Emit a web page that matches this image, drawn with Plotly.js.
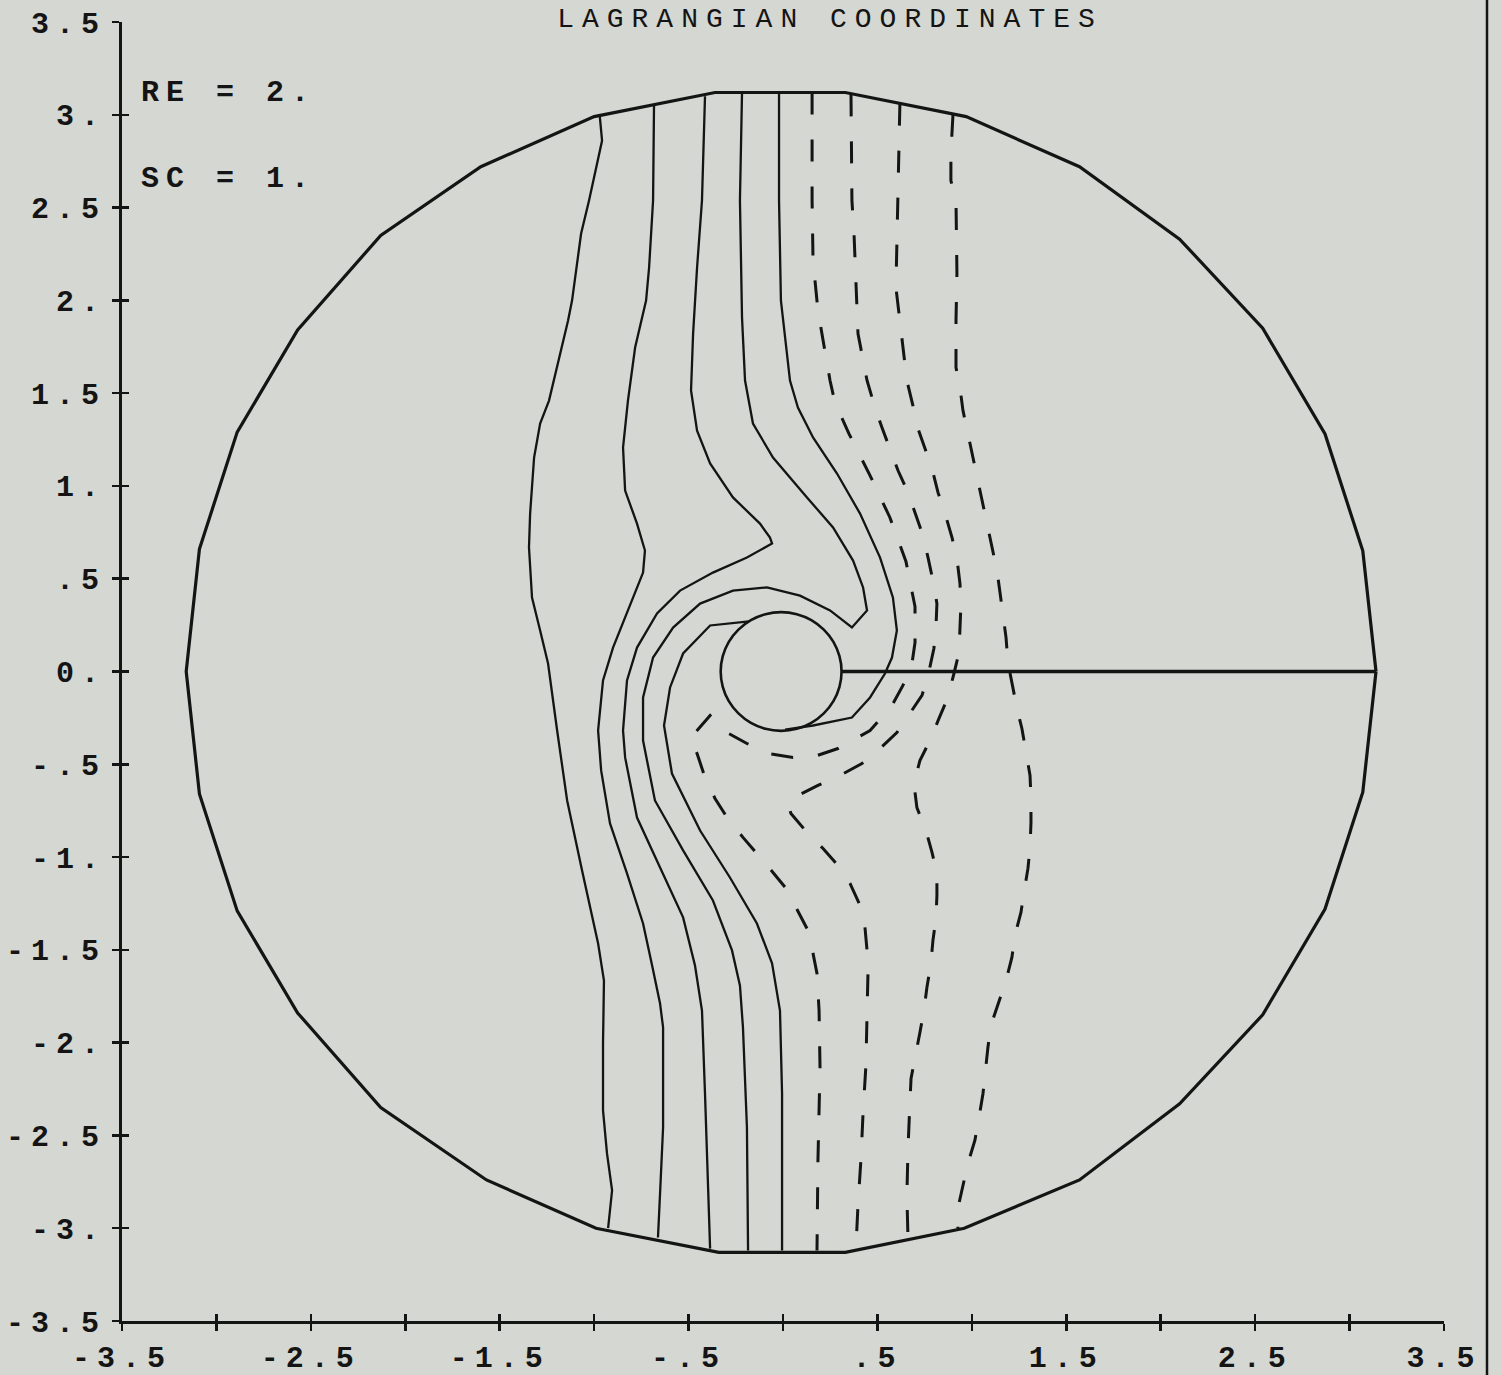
<!DOCTYPE html>
<html>
<head>
<meta charset="utf-8">
<script src="https://cdn.plot.ly/plotly-3.0.1.min.js"></script>
<style>
  html, body { margin: 0; padding: 0; background: #d5d7d2; }
  .xtick text, .ytick text, .annotation-text { letter-spacing: 7px; }
  .gtitle { letter-spacing: 8px; }
</style>
</head>
<body>
<div id="chart" style="width:1502px;height:1375px;"></div>
<script>
// ---- tick values / labels ----
const tickVals = [-3.5, -3, -2.5, -2, -1.5, -1, -0.5, 0, 0.5, 1, 1.5, 2, 2.5, 3, 3.5];
const xTickText = ["-3.5", "", "-2.5", "", "-1.5", "", "-.5", "", ".5", "", "1.5", "", "2.5", "", "3.5"];
const yTickText = ["-3.5", "-3.", "-2.5", "-2.", "-1.5", "-1.", "-.5", "0.", ".5", "1.", "1.5", "2.", "2.5", "3.", "3.5"];

// ---- outer boundary (polygon) ----
const outerX = [3.14, 3.07, 2.87, 2.54, 2.10, 1.57, 0.97, 0.33, -0.36, -1.00, -1.60, -2.13, -2.57, -2.89, -3.09, -3.16,
                -3.09, -2.89, -2.57, -2.13, -1.57, -0.99, -0.34, 0.33, 0.96, 1.57, 2.10, 2.54, 2.87, 3.07, 3.14];
const outerY = [0, 0.65, 1.28, 1.85, 2.33, 2.72, 2.99, 3.12, 3.12, 2.99, 2.72, 2.35, 1.84, 1.29, 0.66, 0,
                -0.66, -1.29, -1.84, -2.35, -2.74, -3.00, -3.13, -3.13, -3.00, -2.74, -2.33, -1.85, -1.28, -0.65, 0];

// ---- inner cylinder ----
const innerX = [0.31, 0.299, 0.267, 0.216, 0.15, 0.073, -0.01, -0.093, -0.17, -0.236, -0.287, -0.319, -0.33,
                -0.319, -0.287, -0.236, -0.17, -0.093, -0.01, 0.073, 0.15, 0.216, 0.267, 0.299, 0.31];
const innerY = [0, 0.083, 0.16, 0.226, 0.277, 0.309, 0.32, 0.309, 0.277, 0.226, 0.16, 0.083, 0,
                -0.083, -0.16, -0.226, -0.277, -0.309, -0.32, -0.309, -0.277, -0.226, -0.16, -0.083, 0];

// ---- cut line ----
const cutX = [0.31, 3.14];
const cutY = [0, 0];

// ---- solid contours ----
const c1X = [-0.97, -0.958, -1.027, -1.069, -1.117, -1.138, -1.239, -1.286, -1.318, -1.339, -1.345, -1.329, -1.286, -1.244, -1.196, -1.143, -1.064, -0.979, -0.948, -0.953, -0.953, -0.932, -0.905, -0.926];
const c1Y = [2.99, 2.861, 2.538, 2.36, 1.999, 1.891, 1.46, 1.336, 1.153, 0.851, 0.668, 0.399, 0.221, 0.043, -0.318, -0.695, -1.072, -1.466, -1.665, -2.004, -2.365, -2.597, -2.796, -3.0];

const c2X = [-0.683, -0.688, -0.709, -0.725, -0.783, -0.821, -0.847, -0.836, -0.773, -0.731, -0.741, -0.799, -0.9, -0.953, -0.979, -0.963, -0.916, -0.826, -0.741, -0.693, -0.651, -0.635, -0.635, -0.651, -0.662];
const c2Y = [3.05, 2.538, 2.177, 1.999, 1.746, 1.46, 1.207, 0.975, 0.797, 0.652, 0.533, 0.383, 0.129, -0.048, -0.318, -0.533, -0.819, -1.088, -1.358, -1.584, -1.789, -1.918, -2.457, -2.813, -3.05];

const c3X = [-0.413, -0.429, -0.455, -0.476, -0.487, -0.455, -0.386, -0.265, -0.122, -0.069, -0.058, -0.191, -0.371, -0.545, -0.667, -0.773, -0.826, -0.847, -0.836, -0.773, -0.651, -0.529, -0.466, -0.429, -0.413, -0.397, -0.386];
const c3Y = [3.10, 2.538, 2.177, 1.821, 1.514, 1.298, 1.121, 0.938, 0.797, 0.722, 0.69, 0.614, 0.533, 0.436, 0.313, 0.129, -0.048, -0.318, -0.463, -0.787, -1.056, -1.325, -1.584, -1.827, -2.274, -2.813, -3.11];

const c4X = [-0.217, -0.228, -0.217, -0.201, -0.159, -0.053, 0.127, 0.265, 0.371, 0.424, 0.445, 0.365, 0.249, 0.09, -0.085, -0.265, -0.439, -0.582, -0.688, -0.741, -0.741, -0.678, -0.529, -0.371, -0.27, -0.228, -0.212, -0.191, -0.185];
const c4Y = [3.12, 2.538, 1.907, 1.568, 1.336, 1.153, 0.938, 0.776, 0.598, 0.453, 0.329, 0.237, 0.329, 0.409, 0.453, 0.436, 0.366, 0.237, 0.075, -0.14, -0.372, -0.695, -0.964, -1.234, -1.503, -1.692, -1.918, -2.457, -3.12];

const c5X = [-0.021, -0.021, -0.011, 0.037, 0.079, 0.159, 0.286, 0.408, 0.514, 0.582, 0.603, 0.577, 0.54, 0.461, 0.365, 0.159, 0.011];
const c5Y = [3.12, 2.538, 1.999, 1.568, 1.422, 1.261, 1.067, 0.851, 0.614, 0.399, 0.221, 0.075, -0.011, -0.14, -0.248, -0.291, -0.313];

const c6X = [-0.18, -0.386, -0.529, -0.598, -0.63, -0.588, -0.439, -0.281, -0.138, -0.058, -0.016, -0.005, -0.005];
const c6Y = [0.27, 0.248, 0.097, -0.086, -0.291, -0.55, -0.857, -1.11, -1.358, -1.573, -1.827, -2.274, -3.12];

// ---- dashed contours ----
const d1X = [0.154, 0.154, 0.159, 0.185, 0.249, 0.275, 0.349, 0.461, 0.566, 0.651, 0.699, 0.699, 0.683, 0.635, 0.577, 0.461, 0.291, 0.18, 0.053, -0.079, -0.191, -0.296, -0.386, -0.492,
             -0.455, -0.413, -0.36, -0.296, -0.212, -0.138, -0.053, 0.016, 0.079, 0.127, 0.159, 0.18, 0.191, 0.196, 0.185, 0.18];
const d1Y = [3.12, 2.538, 2.214, 1.945, 1.568, 1.449, 1.282, 1.056, 0.83, 0.593, 0.35, 0.156, 0.043, -0.075, -0.183, -0.318, -0.415, -0.453, -0.463, -0.442, -0.388, -0.329, -0.237, -0.361,
             -0.442, -0.571, -0.684, -0.787, -0.894, -0.981, -1.083, -1.169, -1.288, -1.385, -1.519, -1.627, -1.827, -2.134, -2.635, -3.12];

const d2X = [0.36, 0.365, 0.376, 0.397, 0.445, 0.487, 0.524, 0.566, 0.609, 0.662, 0.699, 0.741, 0.768, 0.794, 0.815, 0.81, 0.799, 0.768, 0.736, 0.662, 0.603, 0.514, 0.418, 0.302, 0.185, 0.079, 0.026,
             0.042, 0.127, 0.212, 0.291, 0.355, 0.408, 0.434, 0.445, 0.45, 0.445, 0.439, 0.424, 0.413, 0.397, 0.386];
const d2Y = [3.11, 2.538, 2.36, 1.821, 1.568, 1.422, 1.315, 1.202, 1.083, 0.964, 0.851, 0.733, 0.614, 0.49, 0.366, 0.237, 0.124, -0.022, -0.129, -0.237, -0.329, -0.415, -0.496, -0.56, -0.614, -0.668, -0.711,
             -0.765, -0.867, -0.954, -1.045, -1.142, -1.261, -1.379, -1.503, -1.622, -1.88, -2.123, -2.376, -2.624, -2.877, -3.11];

const d3X = [0.619, 0.609, 0.598, 0.656, 0.688, 0.709, 0.752, 0.789, 0.821, 0.858, 0.895, 0.921, 0.937, 0.942, 0.937, 0.932, 0.905, 0.873, 0.826, 0.778, 0.725, 0.693,
             0.709, 0.757, 0.789, 0.815, 0.815, 0.81, 0.794, 0.783, 0.762, 0.746, 0.725, 0.699, 0.678, 0.672, 0.667, 0.662, 0.656, 0.662];
const d3Y = [3.06, 2.538, 2.069, 1.568, 1.433, 1.325, 1.202, 1.094, 0.964, 0.851, 0.722, 0.609, 0.474, 0.356, 0.232, 0.102, -0.011, -0.14, -0.253, -0.372, -0.48, -0.603,
             -0.733, -0.857, -0.975, -1.088, -1.207, -1.331, -1.449, -1.573, -1.703, -1.827, -1.945, -2.08, -2.193, -2.322, -2.446, -2.57, -2.823, -3.06];

const d4X = [0.9, 0.889, 0.889, 0.916, 0.921, 0.916, 0.916, 0.937, 0.953, 0.979, 1.001, 1.027, 1.053, 1.08, 1.106, 1.133, 1.149, 1.165, 1.181, 1.191, 1.212, 1.239, 1.265, 1.286, 1.308,
             1.313, 1.313, 1.308, 1.297, 1.276, 1.26, 1.228, 1.212, 1.181, 1.138, 1.101, 1.085, 1.069, 1.059, 1.038, 1.016, 0.979, 0.953, 0.926, 0.926];
const d4Y = [3.0, 2.791, 2.645, 2.538, 2.144, 1.891, 1.638, 1.53, 1.406, 1.282, 1.164, 1.04, 0.921, 0.797, 0.668, 0.544, 0.426, 0.302, 0.183, 0.048, -0.065, -0.199, -0.307, -0.436, -0.56,
             -0.684, -0.814, -0.948, -1.061, -1.191, -1.298, -1.422, -1.541, -1.665, -1.789, -1.907, -2.026, -2.161, -2.274, -2.403, -2.527, -2.651, -2.769, -2.893, -3.0];

// ---- text ----
const titleText = "LAGRANGIAN COORDINATES";
const paramLabels = ["RE = 2.", "SC = 1."];
const paramX = [-3.41, -3.41];
const paramY = [3.117, 2.656];

// ---- styles ----
const INK = "#141414";
const BG = "#d5d7d2";
const MONO = "Liberation Mono, DejaVu Sans Mono, monospace";

function lineTrace(x, y, width, dash, shape) {
  return {
    type: "scatter", mode: "lines", x: x, y: y,
    line: { color: INK, width: width, dash: dash || "solid", shape: shape || "linear" },
    hoverinfo: "skip", showlegend: false
  };
}

const traces = [
  lineTrace(outerX, outerY, 3.2),
  lineTrace(innerX, innerY, 2.6, "solid", "spline"),
  lineTrace(cutX, cutY, 3.4),
  lineTrace(c1X, c1Y, 2.3),
  lineTrace(c2X, c2Y, 2.3),
  lineTrace(c3X, c3Y, 2.3),
  lineTrace(c4X, c4Y, 2.3),
  lineTrace(c5X, c5Y, 2.3),
  lineTrace(c6X, c6Y, 2.3),
  lineTrace(d1X, d1Y, 3, "22px,25px"),
  lineTrace(d2X, d2Y, 3, "22px,25px"),
  lineTrace(d3X, d3Y, 3, "22px,25px"),
  lineTrace(d4X, d4Y, 3, "22px,25px"),
  { type: "scatter", mode: "lines", x: [null], y: [null], xaxis: "x2", yaxis: "y2",
    hoverinfo: "skip", showlegend: false }
];

const tickFont = { family: MONO, size: 30, color: INK, weight: "bold" };

const layout = {
  width: 1502, height: 1375,
  margin: { l: 122, r: 58, t: 22, b: 54, pad: 0 },
  paper_bgcolor: BG, plot_bgcolor: BG,
  showlegend: false,
  title: {
    text: titleText,
    font: { family: MONO, size: 28, color: INK, weight: "normal" },
    x: 830 / 1502, xref: "container", xanchor: "center",
    y: 1 - 17 / 1375, yref: "container", yanchor: "middle"
  },
  xaxis: {
    range: [-3.5, 3.5], autorange: false, fixedrange: true,
    tickmode: "array", tickvals: tickVals, ticktext: xTickText,
    ticks: "outside", ticklen: 7, tickwidth: 2.5, tickcolor: INK,
    showline: true, linewidth: 3, linecolor: INK,
    showgrid: false, zeroline: false, automargin: false,
    tickfont: tickFont, ticklabelstandoff: 0
  },
  yaxis: {
    range: [-3.5, 3.5], autorange: false, fixedrange: true,
    tickmode: "array", tickvals: tickVals, ticktext: yTickText,
    ticks: "outside", ticklen: 7, tickwidth: 2.5, tickcolor: INK,
    showline: true, linewidth: 3, linecolor: INK,
    showgrid: false, zeroline: false, automargin: false,
    tickfont: tickFont, ticklabelstandoff: 0
  },
  xaxis2: {
    overlaying: "x", anchor: "y2", side: "bottom",
    range: [-3.5, 3.5], autorange: false, fixedrange: true,
    tickmode: "array", tickvals: tickVals,
    ticks: "inside", ticklen: 7, tickwidth: 2.5, tickcolor: INK,
    showticklabels: false, showline: false, showgrid: false, zeroline: false
  },
  yaxis2: {
    overlaying: "y", anchor: "x2", side: "left",
    range: [-3.5, 3.5], autorange: false, fixedrange: true,
    tickmode: "array", tickvals: tickVals,
    ticks: "inside", ticklen: 7, tickwidth: 2.5, tickcolor: INK,
    showticklabels: false, showline: false, showgrid: false, zeroline: false
  },
  annotations: paramLabels.map((t, i) => ({
    text: t, x: paramX[i], y: paramY[i], xref: "x", yref: "y",
    xanchor: "left", yanchor: "middle", showarrow: false,
    font: { family: MONO, size: 30, color: INK, weight: "bold" }
  })),
  shapes: [
    { type: "line", xref: "paper", yref: "paper",
      x0: (1487 - 122) / 1322, x1: (1487 - 122) / 1322, y0: -0.05, y1: 1.03,
      line: { color: INK, width: 2.5 } }
  ]
};

Plotly.newPlot("chart", traces, layout, { staticPlot: true, displayModeBar: false });
</script>
</body>
</html>
